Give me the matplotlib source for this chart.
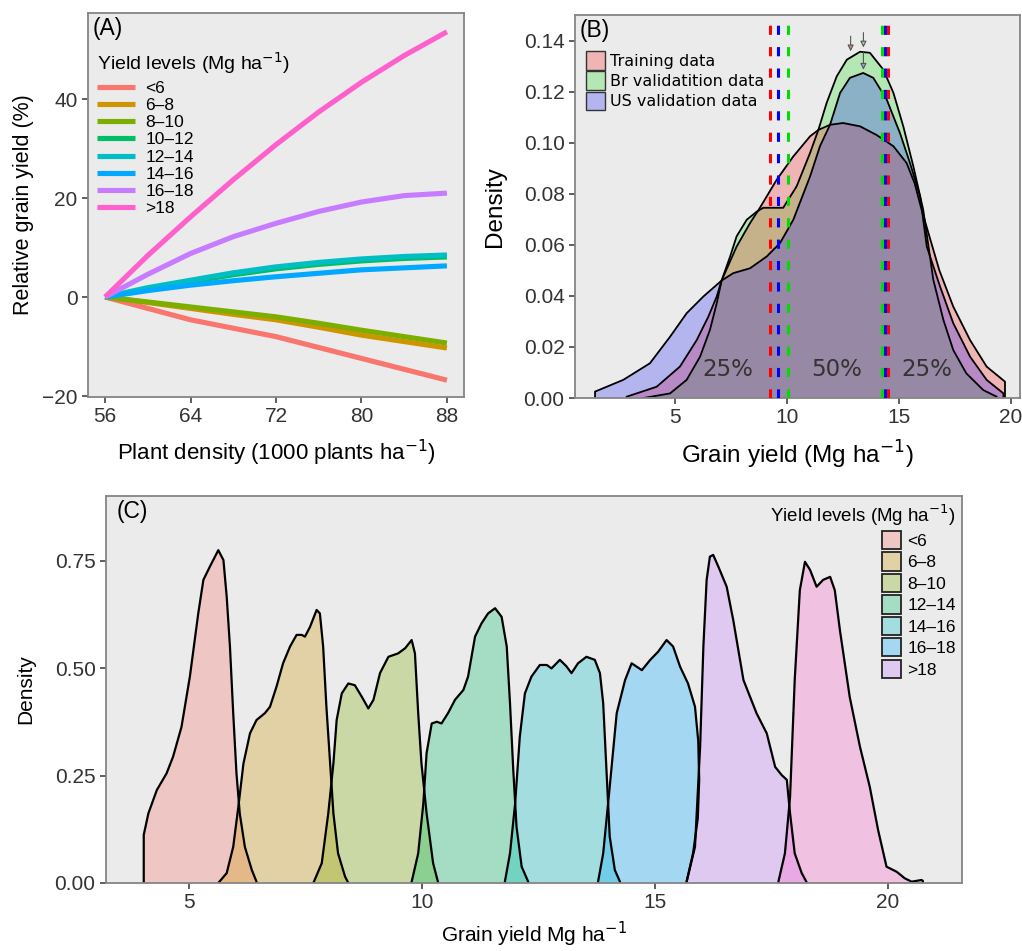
import matplotlib
matplotlib.use("Agg")
import matplotlib.pyplot as plt
from matplotlib.patches import Patch
from matplotlib.colors import to_rgba
import numpy as np

plt.rcParams['font.family'] = ['Liberation Sans', 'DejaVu Sans']

# ---------------- Panel A data ----------------
density_a = [56, 60, 64, 68, 72, 76, 80, 84, 88]
levels_a = ["<6", "6\u20138", "8\u201310", "10\u201312", "12\u201314", "14\u201316", "16\u201318", ">18"]
rel_lt6 = [0, -2.3, -4.6, -6.3, -8.0, -10.2, -12.4, -14.6, -16.8]
rel_6_8 = [0, -1.1, -2.3, -3.5, -4.6, -6.1, -7.7, -9.0, -10.3]
rel_8_10 = [0, -1.0, -2.0, -3.0, -4.0, -5.3, -6.7, -8.0, -9.3]
rel_10_12 = [0, 1.7, 3.1, 4.5, 5.7, 6.6, 7.3, 7.8, 8.1]
rel_12_14 = [0, 1.9, 3.4, 4.9, 6.1, 7.0, 7.7, 8.2, 8.5]
rel_14_16 = [0, 1.3, 2.4, 3.3, 4.1, 4.8, 5.5, 5.9, 6.3]
rel_16_18 = [0, 4.6, 8.8, 12.2, 14.9, 17.3, 19.2, 20.5, 21.0]
rel_gt18 = [0, 8.4, 16.2, 23.7, 30.8, 37.4, 43.4, 48.8, 53.6]
series_a = [rel_lt6, rel_6_8, rel_8_10, rel_10_12, rel_12_14, rel_14_16, rel_16_18, rel_gt18]
hue8 = ["#F8766D", "#CD9600", "#7CAE00", "#00BE67", "#00BFC4", "#00A9FF", "#C77CFF", "#FF61CC"]

# ---------------- Panel B data ----------------
train_x = [2.84, 4.18, 5.22, 5.97, 6.49, 6.86, 7.08, 7.75, 8.35, 8.79, 9.54, 10.28, 11.03, 11.4,
           11.92, 12.5, 13.26, 14.0, 14.75, 15.34, 15.7, 16.0, 16.4, 16.8, 17.42, 18.17, 18.91, 19.73]
train_y = [0.0005, 0.0044, 0.0123, 0.0227, 0.0319, 0.0397, 0.046, 0.0593, 0.0685, 0.0745, 0.0855,
           0.0946, 0.1025, 0.105, 0.107, 0.1077, 0.1064, 0.103, 0.0986, 0.092, 0.084, 0.074, 0.062,
           0.050, 0.0358, 0.0227, 0.0123, 0.0064]
br_x = [3.6, 4.78, 5.52, 6.12, 6.56, 6.86, 7.08, 7.46, 7.75, 8.2, 8.65, 8.94, 9.83, 10.43, 11.03,
        11.4, 11.77, 12.22, 12.67, 13.26, 13.7, 14.3, 14.75, 15.19, 15.64, 16.08, 16.53, 16.98,
        17.42, 18.0, 18.76, 19.36]
br_y = [0.0, 0.0018, 0.0071, 0.0162, 0.0267, 0.037, 0.046, 0.0554, 0.0633, 0.0698, 0.073, 0.0745,
        0.0745, 0.0829, 0.096, 0.105, 0.1156, 0.126, 0.1325, 0.1356, 0.1352, 0.1286, 0.1195,
        0.1064, 0.0907, 0.0737, 0.0463, 0.0306, 0.0188, 0.0097, 0.0031, 0.0005]
us_x = [1.43, 2.69, 3.88, 4.78, 5.52, 6.26, 7.08, 7.6, 8.35, 9.09, 9.69, 10.28, 11.03, 11.47, 11.92,
        12.37, 12.81, 13.4, 13.85, 14.45, 15.04, 15.49, 15.94, 16.24, 16.83, 17.42, 18.17, 18.91, 19.66]
us_y = [0.0025, 0.0071, 0.0136, 0.024, 0.0332, 0.0397, 0.046, 0.0489, 0.0508, 0.0554, 0.0607,
        0.0698, 0.0868, 0.0986, 0.107, 0.1195, 0.1254, 0.1273, 0.1254, 0.1169, 0.1038, 0.092,
        0.079, 0.0593, 0.0437, 0.0293, 0.0162, 0.0071, 0.0018]
b_labels = ["Training data", "Br validatition data", "US validation data"]
b_colors = ["#FF0000", "#00DD00", "#0000FF"]
quart_low = [9.24, 9.6, 10.04]      # training, US, Br
quart_high = [14.51, 14.38, 14.24]  # training, US, Br
mode_x = [12.84, 13.41, 13.41]
mode_top = [0.1417, 0.1431, 0.1353]
mode_tip = [0.1358, 0.1373, 0.1286]
pct_x = [7.37, 12.2, 16.25]
pct_labels = ["25%", "50%", "25%"]

# ---------------- Panel C data ----------------
c_levels = ["<6", "6\u20138", "8\u201310", "12\u201314", "14\u201316", "16\u201318", ">18"]
c1_x = [4.03, 4.13, 4.31, 4.52, 4.66, 4.84, 5.02, 5.2, 5.31, 5.45, 5.63, 5.74, 5.81, 5.88, 5.95,
        6.02, 6.09, 6.2, 6.35, 6.45]
c1_y = [0.112, 0.162, 0.216, 0.255, 0.294, 0.363, 0.48, 0.627, 0.705, 0.736, 0.774, 0.751, 0.666,
        0.55, 0.395, 0.255, 0.162, 0.084, 0.030, 0.003]
c2_x = [5.63, 5.81, 5.95, 6.06, 6.17, 6.31, 6.45, 6.63, 6.74, 6.88, 7.02, 7.17, 7.31, 7.42, 7.49,
        7.6, 7.74, 7.81, 7.88, 7.95, 8.03, 8.1, 8.2, 8.35, 8.42]
c2_y = [0.0, 0.023, 0.084, 0.177, 0.278, 0.348, 0.379, 0.395, 0.41, 0.457, 0.511, 0.55, 0.577,
        0.577, 0.573, 0.596, 0.635, 0.627, 0.55, 0.41, 0.278, 0.162, 0.069, 0.015, 0.0]
c3_x = [7.67, 7.85, 7.99, 8.1, 8.17, 8.28, 8.42, 8.56, 8.71, 8.85, 8.96, 9.1, 9.28, 9.49, 9.64,
        9.78, 9.85, 9.92, 9.99, 10.1, 10.24, 10.35]
c3_y = [0.0, 0.046, 0.162, 0.278, 0.379, 0.441, 0.464, 0.46, 0.433, 0.406, 0.426, 0.488, 0.526,
        0.534, 0.546, 0.565, 0.534, 0.395, 0.278, 0.162, 0.046, 0.0]
c4_x = [9.78, 9.92, 10.03, 10.1, 10.21, 10.32, 10.42, 10.56, 10.71, 10.89, 10.99, 11.14, 11.28,
        11.42, 11.57, 11.71, 11.82, 11.89, 11.96, 12.03, 12.14, 12.28]
c4_y = [0.003, 0.069, 0.185, 0.302, 0.371, 0.375, 0.371, 0.395, 0.426, 0.449, 0.48, 0.573, 0.604,
        0.627, 0.639, 0.619, 0.55, 0.418, 0.263, 0.131, 0.038, 0.003]
c5_x = [11.78, 11.89, 12.0, 12.1, 12.21, 12.35, 12.53, 12.68, 12.78, 12.96, 13.1, 13.21, 13.35,
        13.53, 13.71, 13.82, 13.89, 13.96, 14.03, 14.14, 14.25]
c5_y = [0.003, 0.069, 0.185, 0.34, 0.441, 0.48, 0.507, 0.507, 0.499, 0.519, 0.504, 0.488, 0.511,
        0.526, 0.519, 0.488, 0.418, 0.263, 0.108, 0.030, 0.003]
c6_x = [13.78, 13.89, 14.03, 14.18, 14.36, 14.5, 14.72, 14.9, 15.07, 15.25, 15.39, 15.54, 15.71,
        15.86, 15.93, 15.95, 15.92, 15.82, 15.68]
c6_y = [0.003, 0.069, 0.224, 0.395, 0.472, 0.511, 0.495, 0.519, 0.538, 0.565, 0.55, 0.503, 0.464,
        0.41, 0.33, 0.24, 0.15, 0.07, 0.003]
c7_x = [15.68, 15.86, 15.97, 16.04, 16.11, 16.18, 16.25, 16.36, 16.54, 16.68, 16.9, 17.18, 17.4,
        17.58, 17.72, 17.83, 17.9, 18.0, 18.15, 18.25]
c7_y = [0.003, 0.084, 0.317, 0.55, 0.705, 0.759, 0.763, 0.736, 0.689, 0.612, 0.472, 0.395, 0.348,
        0.27, 0.251, 0.24, 0.162, 0.069, 0.023, 0.003]
c8_x = [17.65, 17.79, 17.9, 18.0, 18.11, 18.22, 18.33, 18.47, 18.61, 18.76, 18.86, 18.97, 19.18,
        19.4, 19.61, 19.79, 19.97, 20.19, 20.36, 20.51, 20.72, 20.75]
c8_y = [0.003, 0.069, 0.2, 0.472, 0.681, 0.747, 0.728, 0.689, 0.705, 0.712, 0.681, 0.588, 0.433,
        0.317, 0.224, 0.123, 0.038, 0.026, 0.011, 0.003, 0.007, 0.005]
c_curves = [(c1_x, c1_y), (c2_x, c2_y), (c3_x, c3_y), (c4_x, c4_y), (c5_x, c5_y),
            (c6_x, c6_y), (c7_x, c7_y), (c8_x, c8_y)]

# ---------------- Figure ----------------
W, H = 1022, 951
fig = plt.figure(figsize=(W / 100, H / 100), dpi=100)
BG = "#EBEBEB"
TICKC = "#333333"


def add_axes_px(l, t, r, b):
    return fig.add_axes([l / W, 1 - b / H, (r - l) / W, (b - t) / H])


def style(ax, ts=15):
    ax.set_facecolor(BG)
    for s in ax.spines.values():
        s.set_color("#858585")
        s.set_linewidth(1.3)
    ax.tick_params(direction="out", length=4.5, width=1.1, color="#333333",
                   labelcolor=TICKC, labelsize=ts, pad=3)


def closed(xs, ys):
    return [xs[0]] + list(xs) + [xs[-1]], [0] + list(ys) + [0]


# Panel A
axA = add_axes_px(88, 13, 464, 397)
style(axA)
for vals, col, lab in zip(series_a, hue8, levels_a):
    axA.plot(density_a, vals, color=col, lw=3.7, label=lab, solid_capstyle="butt")
axA.set_xlim(54.4, 89.6)
axA.set_ylim(-20.2, 57.4)
axA.set_xticks([56, 64, 72, 80, 88])
axA.set_yticks([-20, 0, 20, 40])
axA.set_yticklabels(["\u221220", "0", "20", "40"])
axA.set_xlabel("Plant density (1000 plants ha$^{-1}$)", fontsize=16, labelpad=8)
axA.set_ylabel("Relative grain yield (%)", fontsize=15.5, labelpad=6)
axA.text(0.012, 0.99, "(A)", transform=axA.transAxes, ha="left", va="top", fontsize=16.5)
legA = axA.legend(title="Yield levels (Mg ha$^{-1}$)", loc="upper left", bbox_to_anchor=(0.0, 0.925),
                  frameon=False, fontsize=12.5, title_fontsize=14, handlelength=2.2,
                  labelspacing=0.12, borderaxespad=0.3, alignment="left", handletextpad=0.6,
                  borderpad=0.2)
legA._legend_box.sep = 3

# Panel B
axB = add_axes_px(575, 15, 1020, 398)
style(axB)
draw_order = [(br_x, br_y, b_colors[1]), (train_x, train_y, b_colors[0]), (us_x, us_y, b_colors[2])]
for xs, ys, col in draw_order:
    cx, cy = closed(xs, ys)
    axB.fill(cx, cy, facecolor=col, alpha=0.23, edgecolor="none", zorder=2)
    axB.plot(cx, cy, color="black", lw=1.3, zorder=2.1)
dash_cols = [b_colors[0], b_colors[2], b_colors[1]]
for xv, c in zip(quart_low, dash_cols):
    axB.axvline(xv, color=c, lw=2.2, ls=(0, (3, 4)), zorder=3)
for xv, c in zip(quart_high, dash_cols):
    axB.axvline(xv, color=c, lw=2.2, ls=(0, (3, 4)), zorder=3)
arrow_fc = ["#D08A8A", "#9AD89A", "#8AA8D8"]
for xm, yt, yp, fc in zip(mode_x, mode_top, mode_tip, arrow_fc):
    axB.annotate("", xy=(xm, yp), xytext=(xm, yt),
                 arrowprops=dict(arrowstyle="-|>", fc=fc, ec="#555555", lw=0.8,
                                 mutation_scale=9, shrinkA=0, shrinkB=0), zorder=4)
for xp, lab in zip(pct_x, pct_labels):
    axB.text(xp, 0.011, lab, ha="center", va="center", fontsize=16.5, color="#333333",
             family="DejaVu Sans", zorder=4)
axB.set_xlim(0.536, 20.4)
axB.set_ylim(0, 0.150)
axB.set_xticks([5, 10, 15, 20])
axB.set_yticks([0, 0.02, 0.04, 0.06, 0.08, 0.10, 0.12, 0.14])
axB.set_yticklabels(["0.00", "0.02", "0.04", "0.06", "0.08", "0.10", "0.12", "0.14"])
axB.set_xlabel("Grain yield (Mg ha$^{-1}$)", fontsize=17.5, labelpad=8)
axB.set_ylabel("Density", fontsize=17.5, labelpad=13)
axB.text(0.01, 0.99, "(B)", transform=axB.transAxes, ha="left", va="top", fontsize=16.5)
b_handles = [Patch(facecolor=to_rgba(c, 0.23), edgecolor="#333333", lw=1.0) for c in b_colors]
legB = axB.legend(b_handles, b_labels, loc="upper left", bbox_to_anchor=(0.0, 0.935), frameon=False,
                  prop={"family": "DejaVu Sans", "size": 11.5}, handlelength=1.2, handleheight=1.4,
                  labelspacing=0.12, handletextpad=0.3, borderaxespad=0.3)

# Panel C
axC = add_axes_px(106, 496, 962, 883)
style(axC)
for (xs, ys), col in zip(c_curves, hue8):
    cx, cy = closed(xs, ys)
    axC.fill(cx, cy, facecolor=col, alpha=0.3, edgecolor="none", zorder=2)
    axC.plot(cx, cy, color="black", lw=1.6, zorder=2.1)
axC.set_xlim(3.22, 21.59)
axC.set_ylim(0, 0.90)
axC.set_xticks([5, 10, 15, 20])
axC.set_yticks([0, 0.25, 0.5, 0.75])
axC.set_yticklabels(["0.00", "0.25", "0.50", "0.75"])
axC.set_xlabel("Grain yield Mg ha$^{-1}$", fontsize=15, labelpad=5)
axC.set_ylabel("Density", fontsize=15, labelpad=14)
axC.text(0.012, 0.99, "(C)", transform=axC.transAxes, ha="left", va="top", fontsize=16.5)
c_handles = [Patch(facecolor=to_rgba(c, 0.3), edgecolor="#222222", lw=1.3) for c in hue8[:7]]
legC = axC.legend(c_handles, c_levels, title="Yield levels (Mg ha$^{-1}$)", loc="upper right",
                  frameon=False, fontsize=12.5, title_fontsize=13.5, handlelength=1.1,
                  handleheight=1.25, labelspacing=0.18, handletextpad=0.35, borderaxespad=0.15,
                  alignment="right", borderpad=0.2)

fig.savefig("out.png", dpi=100, facecolor="white")
